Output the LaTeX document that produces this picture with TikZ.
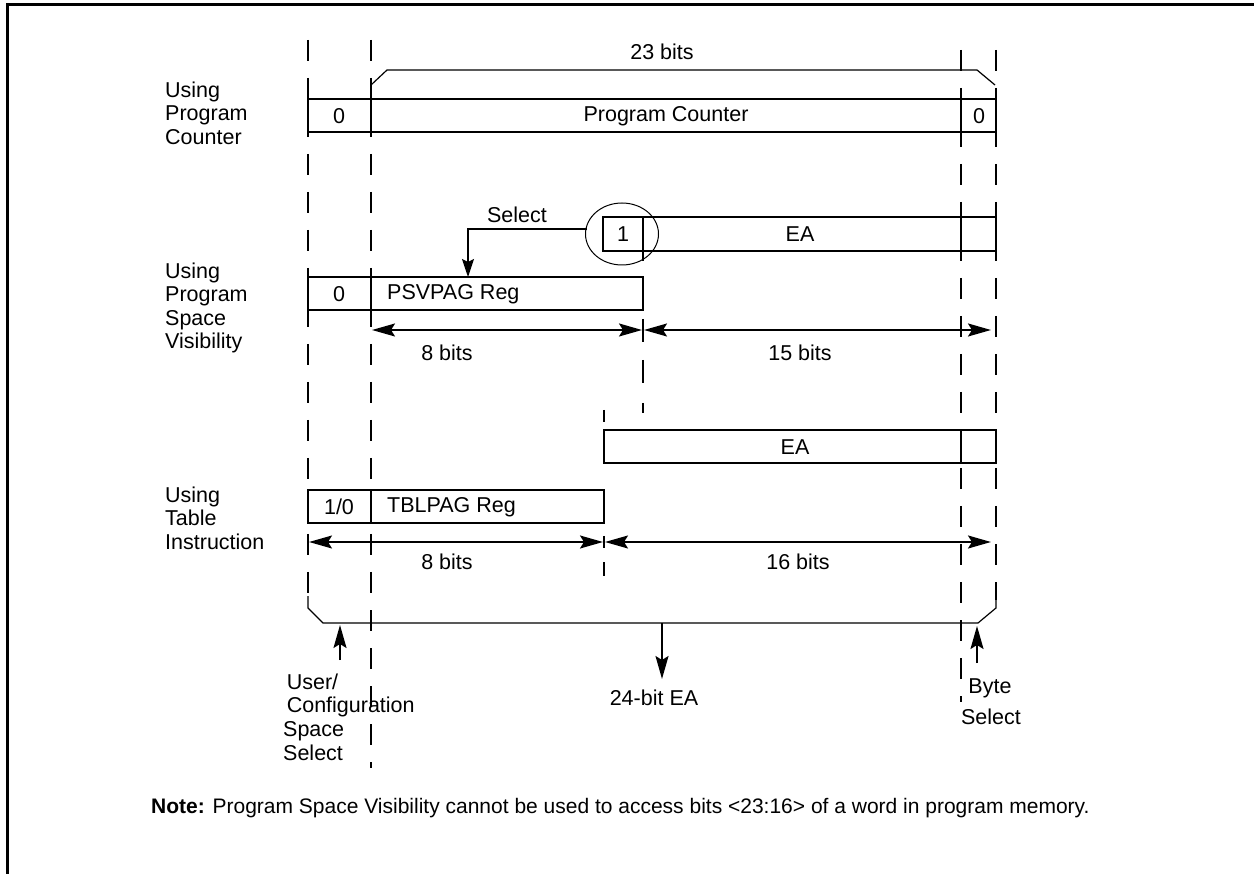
\documentclass[tikz,border=0pt]{standalone}
\usepackage{fontspec}
\setmainfont{Liberation Sans}
\usetikzlibrary{arrows.meta,shapes.geometric}
\begin{document}
\begin{tikzpicture}[x=1pt,y=-1pt,
  reg/.style={line width=1.8pt},
  vdash/.style={line width=1.8pt, dash pattern=on 21pt off 17pt},
  brk/.style={line width=1.2pt},
  arr/.style={line width=1.8pt, -{Stealth[length=23pt,width=13pt,inset=4pt]}},
  darr/.style={line width=1.8pt, {Stealth[length=23pt,width=13pt,inset=4pt]}-{Stealth[length=23pt,width=13pt,inset=4pt]}},
  sarr/.style={line width=1.4pt, -{Stealth[length=18pt,width=12pt,inset=3pt]}},
  lbl/.style={font=\fontsize{21.5}{23.6}\selectfont, inner sep=0pt},
  side/.style={lbl, align=left, anchor=west},
]
\useasboundingbox (0,0) rectangle (1254,874);
% frame
\draw[line width=3pt] (1254,5) -- (7,5) -- (7,874);

% dashed guide lines
\draw[vdash] (308,40) -- (308,602);
\draw[vdash] (371,40) -- (371,768);
\draw[vdash] (961,50) -- (961,702);
\draw[vdash] (996,50) -- (996,600);

% top bracket
\draw[brk] (371,85) -- (387,70) -- (977,70) -- (995,85);
\node[lbl] (b23) at (662,52) {23 bits};

% row 1: program counter
\draw[reg] (308,99) rectangle (996,132);
\draw[reg] (371,99) -- (371,132);
\draw[reg] (961,99) -- (961,132);
\node[lbl] (pc0) at (339,116) {0};
\node[lbl] (pc) at (666,116) {Program Counter};
\node[lbl] (pcz) at (979,116) {0};
\node[side] (lpc) at (165,113) {Using\\Program\\Counter};

% row 2: PSV
\draw[reg] (603,217) rectangle (996,251);
\draw[reg] (643,217) -- (643,261);
\draw[reg] (961,217) -- (961,251);
\node[lbl] (one) at (623,234) {1};
\node[lbl] (ea1) at (800,234) {EA};
\node[draw, ellipse, line width=1pt, minimum width=73pt, minimum height=62pt, inner sep=0pt] (circ) at (622,234) {};
\coordinate (selA) at (587,229);
\coordinate (selB) at (468,229);
\coordinate (selC) at (468,277);
\draw[sarr] (selA) -- (selB) -- (selC);
\node[lbl] (sel) at (517,215) {Select};

\draw[reg] (308,277) rectangle (643,310);
\draw[reg] (371,277) -- (371,310);
\node[lbl] (p0) at (339,294) {0};
\node[lbl, anchor=west] (psv) at (387,294) {PSVPAG Reg};
\node[side] (lpsv) at (165,308) {Using\\Program\\Space\\Visibility};

\draw[reg] (643,319) -- (643,342);
\coordinate (a1) at (372,330);
\coordinate (a2) at (642,330);
\coordinate (a3) at (644,330);
\coordinate (a4) at (991,330);
\draw[darr] (a1) -- (a2);
\draw[darr] (a3) -- (a4);
\node[lbl] (b8a) at (447,353) {8 bits};
\node[lbl] (b15) at (800,353) {15 bits};
\draw[reg] (643,360) -- (643,383);
\draw[reg] (643,403) -- (643,413);

% row 3: table instruction
\draw[reg] (604,410) -- (604,422);
\draw[reg] (604,430) rectangle (996,463);
\draw[reg] (961,430) -- (961,463);
\node[lbl] (ea2) at (795,447) {EA};

\draw[reg] (308,490) rectangle (604,523);
\draw[reg] (371,490) -- (371,523);
\node[lbl] (t10) at (339,507) {1/0};
\node[lbl, anchor=west] (tbl) at (387,507) {TBLPAG Reg};
\node[side] (ltbl) at (165,518) {Using\\Table\\Instruction};

\draw[reg] (604,536) -- (604,548);
\coordinate (c1) at (309,542);
\coordinate (c2) at (603,542);
\coordinate (c3) at (605,542);
\coordinate (c4) at (991,542);
\draw[darr] (c1) -- (c2);
\draw[darr] (c3) -- (c4);
\node[lbl] (b8b) at (447,562) {8 bits};
\node[lbl] (b16) at (798,562) {16 bits};
\draw[reg] (604,562) -- (604,576);

% bottom bracket
\draw[brk] (308,596) -- (308,608) -- (323,623) -- (978,623) -- (996,608) -- (996,596);
\coordinate (u1) at (340,660);
\coordinate (u2) at (340,625);
\coordinate (m1) at (662,623);
\coordinate (m2) at (662,679);
\coordinate (r1) at (977,663);
\coordinate (r2) at (977,626);
\draw[arr] (u1) -- (u2);
\draw[arr] (m1) -- (m2);
\draw[arr] (r1) -- (r2);

\node[lbl, align=left, anchor=west] (ucs) at (283,717) {\,User/\\\,Configuration\\Space\\Select};
\node[lbl] (ea24) at (654,698) {24-bit EA};
\node[lbl] (byte) at (990,688) {Byte};
\node[lbl] (bsel) at (991,717) {Select};

\node[lbl, anchor=west, font=\fontsize{21}{24}\selectfont] (note) at (151,808) {\textbf{Note:} Program Space Visibility cannot be used to access bits <23:16> of a word in program memory.};
\end{tikzpicture}
\end{document}
